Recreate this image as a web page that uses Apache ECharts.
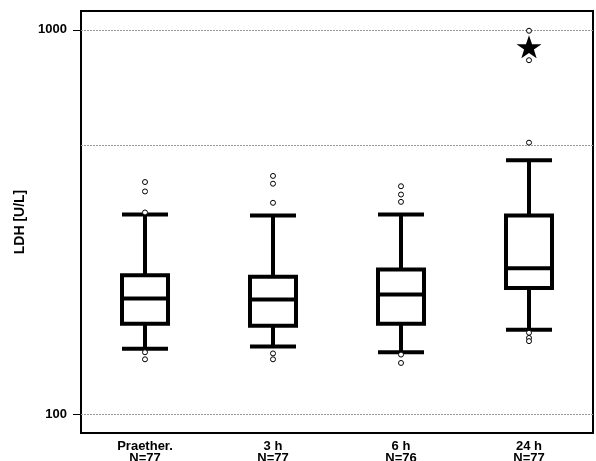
<!DOCTYPE html>
<html>
<head>
<meta charset="utf-8">
<script src="https://cdn.jsdelivr.net/npm/echarts@6/dist/echarts.min.js"></script>
<style>
    html, body {margin: 0; padding: 0; background: #fff;}
    #boxChart {width: 596px; height: 461px;}
</style>
</head>
<body>
<div id="boxChart"></div>
<script>
// categories and sample sizes
var categories = ['Praether.', '3 h', '6 h', '24 h'];
var counts = [77, 77, 76, 77];

// box values: [lower whisker, Q1, median, Q3, upper whisker]
var lowWhisker = [148, 150, 145, 166];
var q1Values = [172, 170, 172, 213];
var medianValues = [200, 199, 205, 240];
var q3Values = [230, 228, 238, 329];
var highWhisker = [331, 329, 331, 458];

// outliers per category
var outliers = [
    [402, 380, 335, 145, 139],
    [417, 398, 355, 144, 139],
    [392, 373, 357, 143, 136],
    [995, 834, 509, 163, 158, 155]
];

// significance star
var starCategory = 3;
var starValue = 904;

// y axis ticks and grid lines
var yTicks = [100, 1000];
var gridValues = [100, 500, 1000];
var yMin = 89.4;
var yMax = 1120;

showBox();

function showBox() {
    var myChart = echarts.init(document.getElementById('boxChart'));

    var boxData = [];
    var outlierData = [];
    for (var i = 0; i < categories.length; i++) {
        boxData.push([lowWhisker[i], q1Values[i], medianValues[i], q3Values[i], highWhisker[i]]);
        for (var j = 0; j < outliers[i].length; j++) {
            outlierData.push([i, outliers[i][j]]);
        }
    }
    var xLabels = categories.map(function (c, i) {
        return c + '\nN=' + counts[i];
    });
    var gridLines = gridValues.map(function (v) {
        return {yAxis: v};
    });

    var font = "'Liberation Sans', Arial, sans-serif";
    var option = {
        animation: false,
        grid: {
            left: 81,
            right: 3,
            top: 11,
            bottom: 28,
            containLabel: false,
            outerBoundsMode: 'none',
            show: true,
            borderColor: '#000',
            borderWidth: 2,
            backgroundColor: '#fff'
        },
        xAxis: {
            type: 'category',
            data: xLabels,
            axisLine: {show: false},
            axisTick: {show: false},
            splitLine: {show: false},
            axisLabel: {
                color: '#000',
                fontWeight: 'bold',
                fontSize: 13,
                fontFamily: font,
                lineHeight: 12,
                margin: 7
            }
        },
        yAxis: {
            type: 'log',
            logBase: 10,
            min: yMin,
            max: yMax,
            name: 'LDH [U/L]',
            nameLocation: 'middle',
            nameGap: 49,
            nameTextStyle: {
                color: '#000',
                fontWeight: 'bold',
                fontSize: 14,
                fontFamily: font
            },
            axisLine: {show: false},
            axisTick: {
                show: true,
                customValues: yTicks,
                length: 8,
                lineStyle: {color: '#000', width: 1}
            },
            axisLabel: {
                customValues: yTicks,
                formatter: function (v) {
                    return String(Math.round(v));
                },
                color: '#000',
                fontWeight: 'bold',
                fontSize: 13,
                fontFamily: font,
                margin: 14
            },
            splitLine: {show: false}
        },
        series: [
            {
                type: 'boxplot',
                data: boxData,
                boxWidth: [46, 46],
                itemStyle: {
                    color: '#fff',
                    borderColor: '#000',
                    borderWidth: 4
                },
                markLine: {
                    silent: true,
                    symbol: 'none',
                    label: {show: false},
                    lineStyle: {color: '#999', type: [2, 1], width: 1},
                    data: gridLines,
                    z: 1
                }
            },
            {
                type: 'scatter',
                data: outlierData,
                symbol: 'circle',
                symbolSize: 5,
                itemStyle: {
                    color: '#fff',
                    borderColor: '#000',
                    borderWidth: 1,
                    opacity: 1
                },
                z: 5
            },
            {
                type: 'scatter',
                data: [[starCategory, starValue]],
                symbol: 'path://M50,0 L61.8,35.1 L98.1,35.1 L68.8,56.7 L79.4,91 L50,70 L20.6,91 L31.2,56.7 L1.9,35.1 L38.2,35.1 Z',
                symbolSize: [25, 23],
                itemStyle: {color: '#000', opacity: 1},
                z: 6
            }
        ]
    };
    myChart.setOption(option);
}
</script>
</body>
</html>
